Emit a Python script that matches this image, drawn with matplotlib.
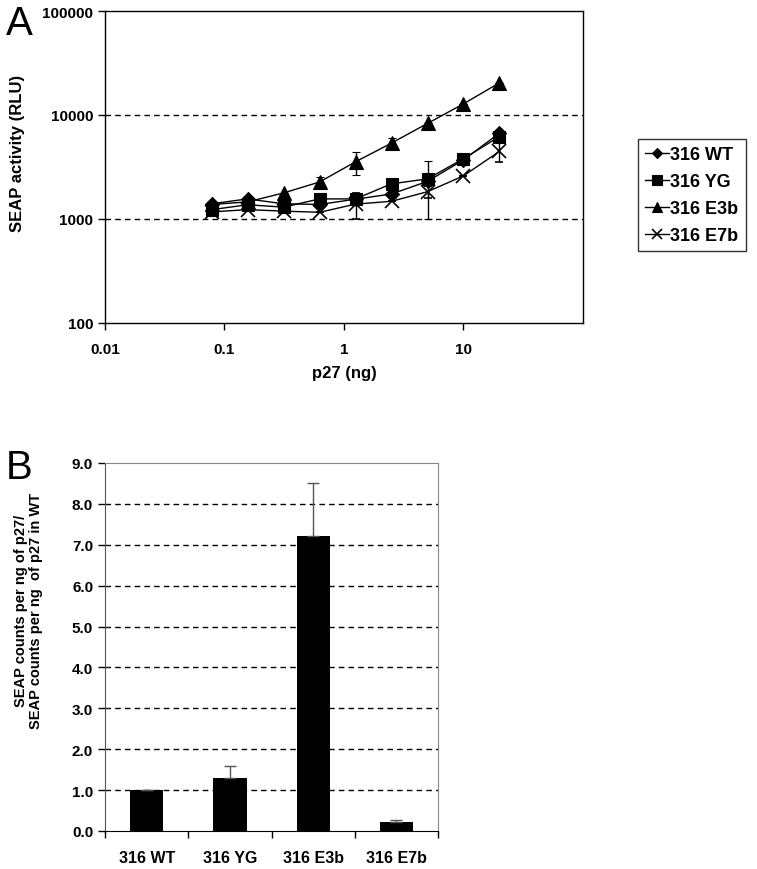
import matplotlib
matplotlib.use("Agg")
import matplotlib.pyplot as plt
from matplotlib.lines import Line2D
import numpy as np

plt.rcParams['font.family'] = ['Liberation Sans', 'DejaVu Sans']

# Panel A data
p27_ng = [0.078, 0.156, 0.3125, 0.625, 1.25, 2.5, 5, 10, 20]
wt = [1400, 1560, 1400, 1380, 1550, 1740, 2300, 3700, 6700]
yg = [1230, 1370, 1300, 1560, 1560, 2180, 2430, 3800, 6200]
e3b = [1380, 1460, 1780, 2270, 3550, 5370, 8300, 12800, 20400]
e7b = [1170, 1230, 1190, 1160, 1390, 1480, 1830, 2600, 4470]
wt_err = [0, 0, 0, 0, 0, 150, 1300, 200, 400]
yg_err = [0, 0, 0, 0, 0, 0, 0, 300, 0]
e3b_err = [0, 0, 0, 250, 900, 600, 0, 0, 0]
e7b_err = [0, 0, 0, 0, 390, 0, 250, 0, 900]
series_names = ['316 WT', '316 YG', '316 E3b', '316 E7b']
a_yticks = [100, 1000, 10000, 100000]
a_xticks = [0.01, 0.1, 1, 10]

# Panel B data
b_categories = ['316 WT', '316 YG', '316 E3b', '316 E7b']
b_values = [1.0, 1.3, 7.22, 0.22]
b_err = [0.0, 0.28, 1.28, 0.06]

fig = plt.figure(figsize=(7.57, 8.70), dpi=100)

# ---------- Panel A ----------
axA = fig.add_axes([0.1387, 0.6276, 0.6314, 0.3586])
markers = ['D', 's', '^', 'x']
msizes = [7, 9, 10, 10]
ys = [wt, yg, e3b, e7b]
errs = [wt_err, yg_err, e3b_err, e7b_err]
handles = []
for name, y, e, m, ms in zip(series_names, ys, errs, markers, msizes):
    mew = 1.2 if m == 'x' else 0.8
    axA.errorbar(p27_ng, y, yerr=e, color='black', marker=m, markersize=ms,
                 markeredgewidth=mew, linewidth=1.0,
                 elinewidth=1.0, capsize=3)
    handles.append(Line2D([], [], color='black', marker=m, markersize=ms * 0.75,
                          markeredgewidth=mew, linewidth=1.0))
axA.set_xscale('log')
axA.set_yscale('log')
axA.set_xlim(0.01, 100)
axA.set_ylim(100, 100000)
axA.set_yticks(a_yticks)
axA.set_yticklabels([str(v) for v in a_yticks])
axA.set_xticks(a_xticks)
axA.set_xticklabels(['0.01', '0.1', '1', '10'])
axA.minorticks_off()
for v in [1000, 10000]:
    axA.axhline(v, color='black', linestyle=(0, (4, 3)), linewidth=1.0, zorder=0)
axA.tick_params(direction='out', length=5, width=1, labelsize=11)
axA.tick_params(axis='x', pad=9)
for lab in axA.get_xticklabels() + axA.get_yticklabels():
    lab.set_fontweight('bold')
for s in axA.spines.values():
    s.set_linewidth(1.0)
axA.set_ylabel('SEAP activity (RLU)', fontsize=12, fontweight='bold')
axA.yaxis.set_label_coords(-0.167, 0.548)
axA.set_xlabel('p27 (ng)', fontsize=12, fontweight='bold', labelpad=6)
leg = axA.legend(handles=handles, labels=series_names, loc='center left',
                 bbox_to_anchor=(1.096, 0.41), frameon=True, fancybox=False,
                 edgecolor='black', prop={'weight': 'bold', 'size': 13},
                 handlelength=1.3, handletextpad=0.1, borderpad=0.4, labelspacing=0.55)
leg.get_frame().set_linewidth(1.0)
fig.text(0.008, 0.994, 'A', fontsize=29, va='top', ha='left')

# ---------- Panel B ----------
axB = fig.add_axes([0.1387, 0.0437, 0.44, 0.423])
x = np.arange(len(b_categories))
axB.bar(x, b_values, width=0.4, color='black', zorder=3)
axB.errorbar(x, b_values, yerr=[np.zeros(len(b_err)), b_err], fmt='none',
             ecolor='#555555', elinewidth=1.0, capsize=4, zorder=4)
axB.set_xlim(-0.5, len(b_categories) - 0.5)
axB.set_ylim(0, 9)
axB.set_yticks(np.arange(0, 10, 1))
axB.set_yticklabels(['%.1f' % v for v in np.arange(0, 10, 1)])
axB.set_xticks(x)
axB.set_xticklabels(b_categories)
axB.set_xticks(np.arange(-0.5, len(b_categories), 1), minor=True)
axB.tick_params(axis='x', which='major', length=0, pad=14, labelsize=11.5)
axB.tick_params(axis='x', which='minor', length=5, direction='out', width=1)
axB.tick_params(axis='y', direction='out', length=5, width=1, labelsize=11)
for lab in axB.get_xticklabels() + axB.get_yticklabels():
    lab.set_fontweight('bold')
for v in range(1, 9):
    axB.axhline(v, color='black', linestyle=(0, (4, 3)), linewidth=1.0, zorder=1)
axB.spines['top'].set_color('#888888')
axB.spines['right'].set_color('#888888')
axB.spines['left'].set_color('#555555')
axB.spines['bottom'].set_color('black')
axB.set_ylabel('SEAP counts per ng of p27/\nSEAP counts per ng  of p27 in WT',
               fontsize=10.5, fontweight='bold', linespacing=1.1)
axB.yaxis.set_label_coords(-0.186, 0.60)
fig.text(0.008, 0.449, 'B', fontsize=29, va='baseline', ha='left')

fig.savefig('out.png', dpi=100)
